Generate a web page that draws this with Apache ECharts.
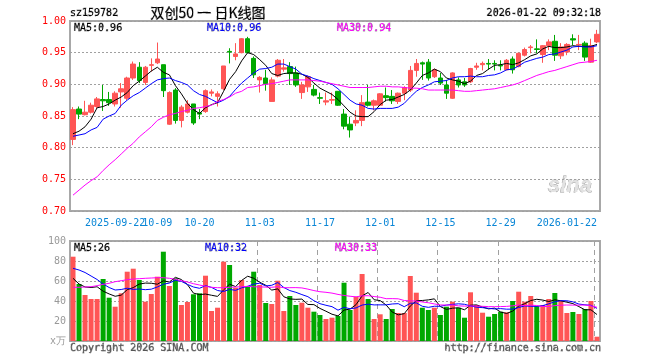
<!DOCTYPE html>
<html><head><meta charset="utf-8">
<script src="https://cdn.jsdelivr.net/npm/echarts@6/dist/echarts.min.js"></script>
<style>html,body{margin:0;padding:0;background:#fff}#c{width:660px;height:360px}</style>
</head><body><div id="c"></div>
<script>
const dates = ['2025-09-11','2025-09-12','2025-09-15','2025-09-16','2025-09-17','2025-09-18','2025-09-19','2025-09-22','2025-09-23','2025-09-24','2025-09-25','2025-09-26','2025-09-29','2025-09-30',
'2025-10-09','2025-10-10','2025-10-13','2025-10-14','2025-10-15','2025-10-16','2025-10-17','2025-10-20','2025-10-21','2025-10-22','2025-10-23','2025-10-24','2025-10-27','2025-10-28','2025-10-29','2025-10-30','2025-10-31',
'2025-11-03','2025-11-04','2025-11-05','2025-11-06','2025-11-07','2025-11-10','2025-11-11','2025-11-12','2025-11-13','2025-11-14','2025-11-17','2025-11-18','2025-11-19','2025-11-20','2025-11-21','2025-11-24','2025-11-25','2025-11-26','2025-11-27','2025-11-28',
'2025-12-01','2025-12-02','2025-12-03','2025-12-04','2025-12-05','2025-12-08','2025-12-09','2025-12-10','2025-12-11','2025-12-12','2025-12-15','2025-12-16','2025-12-17','2025-12-18','2025-12-19','2025-12-22','2025-12-23','2025-12-24','2025-12-25','2025-12-26','2025-12-29','2025-12-30','2025-12-31',
'2026-01-05','2026-01-06','2026-01-07','2026-01-08','2026-01-09','2026-01-12','2026-01-13','2026-01-14','2026-01-15','2026-01-16','2026-01-19','2026-01-20','2026-01-21','2026-01-22'];

const openP = [0.813,0.861,0.852,0.856,0.865,0.876,0.876,0.869,0.888,0.878,
0.910,0.927,0.903,0.930,0.934,0.931,0.837,0.891,0.843,0.856,
0.869,0.855,0.857,0.886,0.881,0.893,0.952,0.944,0.950,0.972,
0.941,0.907,0.910,0.873,0.913,0.924,0.928,0.918,0.887,0.896,
0.892,0.879,0.872,0.875,0.889,0.853,0.837,0.839,0.843,0.872,
0.867,0.867,0.882,0.881,0.873,0.886,0.891,0.922,0.934,0.935,
0.912,0.910,0.899,0.878,0.907,0.904,0.904,0.927,0.931,0.933,
0.933,0.930,0.923,0.940,0.928,0.946,0.958,0.956,0.947,0.961,
0.968,0.945,0.951,0.972,0.962,0.965,0.935,0.967];
const closeP = [0.860,0.853,0.856,0.867,0.877,0.874,0.871,0.886,0.893,0.910,
0.932,0.906,0.927,0.931,0.940,0.890,0.887,0.843,0.864,0.869,
0.839,0.853,0.890,0.888,0.885,0.929,0.951,0.948,0.972,0.950,
0.915,0.911,0.901,0.907,0.938,0.926,0.917,0.899,0.899,0.912,
0.883,0.878,0.874,0.876,0.867,0.834,0.828,0.843,0.871,0.867,
0.874,0.885,0.879,0.874,0.886,0.895,0.922,0.933,0.932,0.910,
0.923,0.902,0.886,0.918,0.899,0.899,0.925,0.929,0.933,0.932,
0.932,0.929,0.938,0.923,0.949,0.955,0.959,0.955,0.961,0.967,
0.946,0.959,0.963,0.970,0.963,0.943,0.961,0.979];
const lowP = [0.804,0.845,0.851,0.854,0.862,0.858,0.866,0.865,0.863,0.875,
0.907,0.902,0.899,0.920,0.932,0.880,0.836,0.838,0.832,0.854,
0.836,0.845,0.855,0.881,0.865,0.891,0.933,0.938,0.949,0.949,
0.910,0.887,0.890,0.873,0.911,0.920,0.899,0.896,0.877,0.888,
0.881,0.869,0.867,0.869,0.866,0.829,0.816,0.834,0.834,0.865,
0.859,0.866,0.873,0.869,0.869,0.875,0.888,0.912,0.907,0.906,
0.910,0.899,0.877,0.877,0.895,0.896,0.902,0.923,0.922,0.923,
0.922,0.922,0.922,0.917,0.927,0.944,0.949,0.949,0.934,0.954,
0.937,0.940,0.946,0.962,0.954,0.937,0.934,0.965];
const highP = [0.864,0.865,0.874,0.871,0.880,0.899,0.888,0.889,0.902,0.912,
0.936,0.935,0.929,0.941,0.966,0.931,0.889,0.894,0.867,0.875,
0.869,0.861,0.892,0.892,0.889,0.929,0.957,0.965,0.973,0.975,
0.944,0.913,0.923,0.911,0.940,0.940,0.935,0.928,0.904,0.914,
0.899,0.887,0.887,0.887,0.889,0.861,0.849,0.859,0.883,0.899,
0.876,0.886,0.895,0.891,0.887,0.897,0.929,0.940,0.936,0.940,
0.925,0.918,0.907,0.919,0.911,0.910,0.926,0.934,0.936,0.940,
0.938,0.938,0.940,0.944,0.950,0.958,0.962,0.971,0.962,0.971,
0.978,0.965,0.965,0.979,0.978,0.968,0.972,0.986];

const ma5 = [0.822,0.826,0.833,0.845,0.863,0.865,0.869,0.875,0.880,0.887,
0.898,0.905,0.913,0.921,0.927,0.919,0.915,0.898,0.885,0.870,
0.860,0.854,0.863,0.868,0.871,0.889,0.908,0.920,0.937,0.950,
0.947,0.939,0.930,0.917,0.914,0.917,0.918,0.918,0.916,0.911,
0.902,0.894,0.889,0.884,0.876,0.866,0.856,0.850,0.849,0.849,
0.857,0.868,0.875,0.876,0.880,0.884,0.891,0.902,0.914,0.918,
0.924,0.920,0.910,0.907,0.905,0.901,0.905,0.914,0.917,0.924,
0.930,0.931,0.933,0.931,0.934,0.939,0.945,0.948,0.956,0.960,
0.958,0.958,0.959,0.961,0.960,0.960,0.960,0.963];
const ma10 = [0.818,0.820,0.822,0.828,0.832,0.845,0.850,0.854,0.867,0.875,
0.882,0.887,0.894,0.901,0.907,0.909,0.910,0.906,0.903,0.899,
0.890,0.884,0.881,0.876,0.871,0.875,0.881,0.892,0.902,0.910,
0.918,0.924,0.925,0.927,0.932,0.932,0.928,0.924,0.916,0.913,
0.909,0.906,0.903,0.900,0.893,0.884,0.875,0.869,0.867,0.862,
0.861,0.862,0.862,0.862,0.864,0.870,0.880,0.889,0.895,0.899,
0.904,0.905,0.906,0.910,0.912,0.912,0.913,0.912,0.912,0.914,
0.915,0.918,0.923,0.924,0.929,0.935,0.938,0.941,0.943,0.947,
0.948,0.951,0.954,0.959,0.960,0.959,0.959,0.961];
const ma30 = [0.725,0.733,0.741,0.748,0.754,0.764,0.773,0.781,0.790,0.799,
0.807,0.817,0.825,0.833,0.843,0.848,0.852,0.854,0.857,0.859,
0.862,0.863,0.865,0.867,0.873,0.876,0.880,0.886,0.889,0.895,
0.896,0.898,0.900,0.901,0.903,0.905,0.907,0.907,0.907,0.907,
0.906,0.905,0.903,0.901,0.899,0.897,0.895,0.895,0.895,0.895,
0.896,0.897,0.897,0.896,0.896,0.895,0.894,0.894,0.893,0.891,
0.891,0.891,0.891,0.891,0.890,0.889,0.889,0.890,0.891,0.892,
0.893,0.895,0.897,0.899,0.902,0.906,0.910,0.914,0.917,0.920,
0.922,0.925,0.928,0.931,0.934,0.935,0.936,0.938];

const volume = [84.3,57,46,42,42,62,43.3,34.3,47.7,69.3,
72.3,61,39.3,47,64.3,89.3,55,62.7,36,39,
46.7,47.7,65.3,30,33.3,79.3,76,53.3,61,54.3,
69.3,56,38,37,60.3,30,45,36,38.3,33.3,
29.3,26,22,23.3,25,58.3,31,44.3,67,42,
22,26.7,22,32,28,28,65,48.3,33.3,31,
33.3,26,34.3,39.3,33.3,23.3,48.7,36,28.3,24.3,
27,29.3,28.7,40,49.3,39.3,45,35,36,42,
48,40,28,29,27,32,40,4.3];
const volMa5 = [62.7,57,54,53.5,54.26,49.8,47.06,44.72,45.86,51.32,
53.38,56.92,57.92,57.78,56.78,60.18,58.98,63.66,61.46,56.4,
47.88,46.42,46.94,45.74,44.6,51.12,56.78,54.38,60.58,64.78,
62.78,58.78,55.72,50.92,52.12,44.26,42.06,41.66,41.92,36.52,
36.38,32.58,29.78,26.78,25.12,30.92,31.92,36.38,45.12,48.52,
41.26,40.4,35.94,28.94,26.14,27.34,35,40.26,40.52,41.12,
42.18,34.38,31.58,32.78,33.24,31.24,35.78,36.12,33.92,32.12,
32.86,28.98,27.52,29.86,34.86,37.32,40.46,41.72,40.92,39.46,
41.2,40.2,38.8,37.4,34.4,31.2,31.2,26.46];
const volMa10 = [72.7,71,68.5,65,61.5,57,53.5,51,51.5,52.79,
51.59,51.99,51.32,51.82,54.05,56.78,57.95,60.79,59.62,56.59,
54.03,52.7,55.3,53.6,50.5,49.5,51.6,50.66,53.16,54.69,
56.95,57.78,55.05,55.75,58.45,53.52,50.42,48.69,46.42,44.32,
40.32,37.32,35.72,34.35,30.82,33.65,32.25,33.08,35.95,36.82,
36.09,36.16,36.16,37.03,37.33,34.3,37.7,38.1,34.73,33.63,
34.76,34.69,35.92,36.65,37.18,36.71,35.08,33.85,33.35,32.68,
32.05,32.38,31.82,31.89,33.49,35.09,34.72,34.62,35.39,37.16,
39.26,40.33,40.26,39.16,36.93,36.2,35.7,32.63];
const volMa30 = [53.7,53.7,54,54.3,55.3,56.7,57.7,59.3,60.3,61.3,
62,62.3,62.7,63,63.3,63.3,62.7,61.7,60.3,59,
57.3,56,54.7,53.7,53.3,53.3,53.7,54,54.3,54.69,
54.19,54.16,53.89,53.72,54.33,53.27,53.32,53.38,53.07,51.87,
50.43,49.27,48.69,47.9,46.59,45.56,44.76,44.14,45.18,45.28,
44.45,43.75,42.31,42.38,42.2,40.49,40.12,39.96,39.03,38.26,
37.06,36.06,35.93,36.01,35.11,34.89,35.01,35.01,34.68,34.38,
34.3,34.41,34.63,35.19,36,35.37,35.83,35.52,34.49,34.49,
35.36,35.8,36,35.9,35.87,36,35.17,33.7];

const tickIndex = [7,14,21,31,41,51,61,71,87];
const tickText = ['2025-09-22','10-09','10-20','11-03','11-17','12-01','12-15','12-29','2026-01-22'];

const UP = '#ff5555', DOWN = '#00a800';
const MONO = '"DejaVu Sans Mono", monospace';
const LABEL_BLUE = '#0a86d6';
const GRID_LINE = '#a0a0a0';

const kdata = openP.map((o, i) => [o, closeP[i], lowP[i], highP[i]]);
const labelSetA = (idx) => [0, 2, 4, 6, 8].some(k => tickIndex[k] === idx);
const labelSetB = (idx) => [1, 3, 5, 7].some(k => tickIndex[k] === idx);
const labelText = (v, idx) => { const k = tickIndex.indexOf(idx); return k >= 0 ? tickText[k] : ''; };

const chart = echarts.init(document.getElementById('c'), null, {renderer: 'canvas'});

function txt(x, y, text, fill, align, font) {
  return {type: 'text', x: x, y: y, silent: true, z: 100,
    style: {text: text, fill: fill, align: align || 'left', verticalAlign: 'middle', font: font || ('10px ' + MONO)}};
}

const GRIDS = [{left: 70, top: 21, width: 530, height: 190}, {left: 70, top: 241, width: 530, height: 100}];

chart.setOption({
  animation: false,
  backgroundColor: '#ffffff',
  grid: GRIDS.map(g => Object.assign({show: true, borderColor: '#a8a8a8', borderWidth: 2, backgroundColor: 'transparent'}, g)),
  xAxis: [
    {type: 'category', gridIndex: 0, data: dates, boundaryGap: true, position: 'bottom', offset: 0,
     axisLine: {show: false}, axisTick: {show: false}, splitLine: {show: false},
     axisLabel: {interval: labelSetA, hideOverlap: false, color: LABEL_BLUE, fontFamily: MONO, fontSize: 10, margin: 7,
       alignMaxLabel: 'right', formatter: labelText}},
    {type: 'category', gridIndex: 1, data: dates, boundaryGap: true,
     axisLine: {show: false}, axisTick: {show: false}, axisLabel: {show: false}, splitLine: {show: false}},
    {type: 'category', gridIndex: 0, data: dates, boundaryGap: true, position: 'bottom', offset: 0,
     axisLine: {show: false}, axisTick: {show: false}, splitLine: {show: false},
     axisLabel: {interval: labelSetB, hideOverlap: false, color: LABEL_BLUE, fontFamily: MONO, fontSize: 10, margin: 7,
       formatter: labelText}}
  ],
  yAxis: [
    {type: 'value', gridIndex: 0, min: 0.70, max: 1.00, interval: 0.05,
     axisLine: {show: false}, axisTick: {show: false},
     axisLabel: {color: '#ff0000', fontFamily: MONO, fontSize: 10, margin: 4, formatter: v => v.toFixed(2)},
     splitLine: {show: true, lineStyle: {color: GRID_LINE, type: [2, 2], width: 1}}},
    {type: 'value', gridIndex: 1, min: 0, max: 100, interval: 20,
     axisLine: {show: false}, axisTick: {show: false},
     axisLabel: {color: '#999999', fontFamily: MONO, fontSize: 10, margin: 4, formatter: v => v === 0 ? 'x万' : String(v)},
     splitLine: {show: true, lineStyle: {color: GRID_LINE, type: [2, 2], width: 1}}}
  ],
  series: [
    {type: 'candlestick', xAxisIndex: 0, yAxisIndex: 0, data: kdata, barWidth: 5, z: 2,
     itemStyle: {color: UP, color0: DOWN, borderColor: UP, borderColor0: DOWN, borderWidth: 1}},
    {type: 'line', xAxisIndex: 0, yAxisIndex: 0, data: ma5, showSymbol: false, z: 5, lineStyle: {color: '#000000', width: 1}},
    {type: 'line', xAxisIndex: 0, yAxisIndex: 0, data: ma10, showSymbol: false, z: 5, lineStyle: {color: '#0000ff', width: 1}},
    {type: 'line', xAxisIndex: 0, yAxisIndex: 0, data: ma30, showSymbol: false, z: 5, lineStyle: {color: '#ff00ff', width: 1}},
    {type: 'bar', xAxisIndex: 1, yAxisIndex: 1, data: volume, barWidth: 5, z: 2,
     itemStyle: {color: p => closeP[p.dataIndex] >= openP[p.dataIndex] ? UP : DOWN}},
    {type: 'line', xAxisIndex: 1, yAxisIndex: 1, data: volMa5, showSymbol: false, z: 5, lineStyle: {color: '#000000', width: 1}},
    {type: 'line', xAxisIndex: 1, yAxisIndex: 1, data: volMa10, showSymbol: false, z: 5, lineStyle: {color: '#0000ff', width: 1}},
    {type: 'line', xAxisIndex: 1, yAxisIndex: 1, data: volMa30, showSymbol: false, z: 5, lineStyle: {color: '#ff00ff', width: 1}}
  ],
  graphic: [
    txt(70, 13, 'sz159782', '#000000'),
    txt(208, 13, '双创50 一 日K线图', '#000000', 'center', '14px "Noto Sans CJK SC", sans-serif'),
    txt(601, 13, '2026-01-22 09:32:18', '#000000', 'right'),
    txt(74, 28, 'MA5:0.96', '#000000'),
    txt(207, 28, 'MA10:0.96', '#0000ff'),
    txt(337, 28, 'MA30:0.94', '#ff00ff'),
    txt(74, 248, 'MA5:26', '#000000'),
    txt(205, 248, 'MA10:32', '#0000ff'),
    txt(335, 248, 'MA30:33', '#ff00ff'),
    txt(70, 348, 'Copyright 2026 SINA.COM', '#555555'),
    txt(601, 348, 'http://finance.sina.com.cn', '#555555', 'right'),
    txt(548, 186, 'sina', '#e2e2e2', 'left', 'italic bold 22px "Liberation Sans", sans-serif')
  ]
});

// vertical dashed date lines: x taken from the axis scale (left edge of each tick date's band)
const dateLineEls = [];
GRIDS.forEach((g, gi) => {
  tickIndex.forEach(i => {
    const c0 = chart.convertToPixel({xAxisIndex: gi}, dates[i]);
    const c1 = chart.convertToPixel({xAxisIndex: gi}, dates[Math.min(i + 1, dates.length - 1)]);
    const band = (i + 1 < dates.length) ? (c1 - c0) : (chart.convertToPixel({xAxisIndex: gi}, dates[i]) - chart.convertToPixel({xAxisIndex: gi}, dates[i - 1]));
    const x = Math.round(c0 - band / 2) + 0.5;
    dateLineEls.push({type: 'line', silent: true, z: 1,
      shape: {x1: x, y1: g.top, x2: x, y2: g.top + g.height},
      style: {stroke: GRID_LINE, lineWidth: 1, lineDash: [5, 4]}});
  });
});
chart.setOption({graphic: [{type: 'group', id: 'dateLines', silent: true, z: 1, children: dateLineEls}]});
</script>
</body></html>
